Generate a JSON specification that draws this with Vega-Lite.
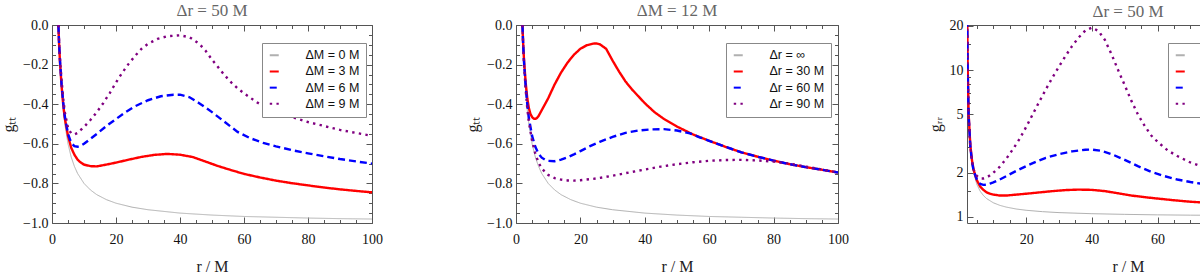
{
  "$schema": "https://vega.github.io/schema/vega-lite/v6.json",
  "padding": {"left": 0, "top": 1, "right": 0, "bottom": 0},
  "config": {
    "view": {"stroke": "#555", "strokeWidth": 1},
    "axis": {"grid": false, "domain": false, "tickColor": "#555", "tickWidth": 1, "labelFont": "Liberation Serif", "labelFontSize": 14, "labelColor": "#111", "labelFlush": false, "labelOverlap": false, "titleFont": "Liberation Serif", "titleFontSize": 16, "titleFontWeight": "normal", "titleColor": "#222"},
    "title": {"font": "Liberation Serif", "fontSize": 17, "fontWeight": "normal", "color": "#666", "offset": -2},
    "legend": {"orient": "none", "title": null, "strokeColor": "#888", "fillColor": "white", "padding": 6, "labelFont": "Liberation Sans", "labelFontSize": 12.5, "labelColor": "#111", "symbolType": "stroke", "symbolSize": 81, "symbolStrokeWidth": 2, "labelOffset": 25, "rowPadding": 3.2, "cornerRadius": 0}
  },
  "datasets": {
    "p1": [
      {"r":2,"v":0,"s":"ΔM = 0 M"},{"r":2.2,"v":-0.091,"s":"ΔM = 0 M"},{"r":2.5,"v":-0.2,"s":"ΔM = 0 M"},{"r":3,"v":-0.333,"s":"ΔM = 0 M"},{"r":3.5,"v":-0.429,"s":"ΔM = 0 M"},{"r":4,"v":-0.5,"s":"ΔM = 0 M"},{"r":5,"v":-0.6,"s":"ΔM = 0 M"},{"r":6,"v":-0.667,"s":"ΔM = 0 M"},{"r":7,"v":-0.714,"s":"ΔM = 0 M"},{"r":8,"v":-0.75,"s":"ΔM = 0 M"},{"r":10,"v":-0.8,"s":"ΔM = 0 M"},{"r":12,"v":-0.833,"s":"ΔM = 0 M"},{"r":14,"v":-0.857,"s":"ΔM = 0 M"},{"r":17,"v":-0.882,"s":"ΔM = 0 M"},{"r":20,"v":-0.9,"s":"ΔM = 0 M"},{"r":25,"v":-0.92,"s":"ΔM = 0 M"},{"r":30,"v":-0.933,"s":"ΔM = 0 M"},{"r":40,"v":-0.95,"s":"ΔM = 0 M"},{"r":50,"v":-0.96,"s":"ΔM = 0 M"},{"r":60,"v":-0.967,"s":"ΔM = 0 M"},{"r":70,"v":-0.971,"s":"ΔM = 0 M"},{"r":80,"v":-0.975,"s":"ΔM = 0 M"},{"r":90,"v":-0.978,"s":"ΔM = 0 M"},{"r":100,"v":-0.98,"s":"ΔM = 0 M"},
      {"r":2,"v":0,"s":"ΔM = 3 M"},{"r":2.2,"v":-0.09,"s":"ΔM = 3 M"},{"r":2.5,"v":-0.19,"s":"ΔM = 3 M"},{"r":3,"v":-0.31,"s":"ΔM = 3 M"},{"r":3.5,"v":-0.4,"s":"ΔM = 3 M"},{"r":4,"v":-0.47,"s":"ΔM = 3 M"},{"r":5,"v":-0.56,"s":"ΔM = 3 M"},{"r":6,"v":-0.62,"s":"ΔM = 3 M"},{"r":7,"v":-0.655,"s":"ΔM = 3 M"},{"r":8,"v":-0.68,"s":"ΔM = 3 M"},{"r":9,"v":-0.695,"s":"ΔM = 3 M"},{"r":10,"v":-0.705,"s":"ΔM = 3 M"},{"r":12,"v":-0.713,"s":"ΔM = 3 M"},{"r":14,"v":-0.714,"s":"ΔM = 3 M"},{"r":17,"v":-0.705,"s":"ΔM = 3 M"},{"r":20,"v":-0.695,"s":"ΔM = 3 M"},{"r":24,"v":-0.68,"s":"ΔM = 3 M"},{"r":28,"v":-0.666,"s":"ΔM = 3 M"},{"r":32,"v":-0.656,"s":"ΔM = 3 M"},{"r":36,"v":-0.651,"s":"ΔM = 3 M"},{"r":40,"v":-0.655,"s":"ΔM = 3 M"},{"r":44,"v":-0.667,"s":"ΔM = 3 M"},{"r":48,"v":-0.69,"s":"ΔM = 3 M"},{"r":52,"v":-0.713,"s":"ΔM = 3 M"},{"r":56,"v":-0.733,"s":"ΔM = 3 M"},{"r":60,"v":-0.752,"s":"ΔM = 3 M"},{"r":65,"v":-0.77,"s":"ΔM = 3 M"},{"r":70,"v":-0.786,"s":"ΔM = 3 M"},{"r":75,"v":-0.799,"s":"ΔM = 3 M"},{"r":80,"v":-0.81,"s":"ΔM = 3 M"},{"r":85,"v":-0.821,"s":"ΔM = 3 M"},{"r":90,"v":-0.83,"s":"ΔM = 3 M"},{"r":95,"v":-0.838,"s":"ΔM = 3 M"},{"r":100,"v":-0.845,"s":"ΔM = 3 M"},
      {"r":2,"v":0,"s":"ΔM = 6 M"},{"r":2.2,"v":-0.085,"s":"ΔM = 6 M"},{"r":2.5,"v":-0.18,"s":"ΔM = 6 M"},{"r":3,"v":-0.3,"s":"ΔM = 6 M"},{"r":3.5,"v":-0.39,"s":"ΔM = 6 M"},{"r":4,"v":-0.46,"s":"ΔM = 6 M"},{"r":5,"v":-0.55,"s":"ΔM = 6 M"},{"r":6,"v":-0.595,"s":"ΔM = 6 M"},{"r":7,"v":-0.612,"s":"ΔM = 6 M"},{"r":8,"v":-0.615,"s":"ΔM = 6 M"},{"r":9,"v":-0.61,"s":"ΔM = 6 M"},{"r":10,"v":-0.6,"s":"ΔM = 6 M"},{"r":12,"v":-0.575,"s":"ΔM = 6 M"},{"r":14,"v":-0.55,"s":"ΔM = 6 M"},{"r":17,"v":-0.51,"s":"ΔM = 6 M"},{"r":20,"v":-0.475,"s":"ΔM = 6 M"},{"r":23,"v":-0.44,"s":"ΔM = 6 M"},{"r":26,"v":-0.41,"s":"ΔM = 6 M"},{"r":30,"v":-0.38,"s":"ΔM = 6 M"},{"r":34,"v":-0.36,"s":"ΔM = 6 M"},{"r":38,"v":-0.352,"s":"ΔM = 6 M"},{"r":40,"v":-0.352,"s":"ΔM = 6 M"},{"r":43,"v":-0.365,"s":"ΔM = 6 M"},{"r":46,"v":-0.395,"s":"ΔM = 6 M"},{"r":50,"v":-0.44,"s":"ΔM = 6 M"},{"r":54,"v":-0.49,"s":"ΔM = 6 M"},{"r":58,"v":-0.54,"s":"ΔM = 6 M"},{"r":62,"v":-0.572,"s":"ΔM = 6 M"},{"r":66,"v":-0.595,"s":"ΔM = 6 M"},{"r":70,"v":-0.613,"s":"ΔM = 6 M"},{"r":75,"v":-0.632,"s":"ΔM = 6 M"},{"r":80,"v":-0.648,"s":"ΔM = 6 M"},{"r":85,"v":-0.663,"s":"ΔM = 6 M"},{"r":90,"v":-0.677,"s":"ΔM = 6 M"},{"r":95,"v":-0.689,"s":"ΔM = 6 M"},{"r":100,"v":-0.7,"s":"ΔM = 6 M"},
      {"r":2,"v":0,"s":"ΔM = 9 M"},{"r":2.2,"v":-0.08,"s":"ΔM = 9 M"},{"r":2.5,"v":-0.17,"s":"ΔM = 9 M"},{"r":3,"v":-0.28,"s":"ΔM = 9 M"},{"r":3.5,"v":-0.37,"s":"ΔM = 9 M"},{"r":4,"v":-0.44,"s":"ΔM = 9 M"},{"r":5,"v":-0.52,"s":"ΔM = 9 M"},{"r":6,"v":-0.548,"s":"ΔM = 9 M"},{"r":7,"v":-0.552,"s":"ΔM = 9 M"},{"r":8,"v":-0.545,"s":"ΔM = 9 M"},{"r":9,"v":-0.53,"s":"ΔM = 9 M"},{"r":10,"v":-0.515,"s":"ΔM = 9 M"},{"r":12,"v":-0.48,"s":"ΔM = 9 M"},{"r":14,"v":-0.44,"s":"ΔM = 9 M"},{"r":16,"v":-0.395,"s":"ΔM = 9 M"},{"r":18,"v":-0.345,"s":"ΔM = 9 M"},{"r":20,"v":-0.29,"s":"ΔM = 9 M"},{"r":22,"v":-0.24,"s":"ΔM = 9 M"},{"r":24,"v":-0.195,"s":"ΔM = 9 M"},{"r":26,"v":-0.155,"s":"ΔM = 9 M"},{"r":28,"v":-0.12,"s":"ΔM = 9 M"},{"r":30,"v":-0.095,"s":"ΔM = 9 M"},{"r":33,"v":-0.07,"s":"ΔM = 9 M"},{"r":36,"v":-0.057,"s":"ΔM = 9 M"},{"r":40,"v":-0.052,"s":"ΔM = 9 M"},{"r":43,"v":-0.062,"s":"ΔM = 9 M"},{"r":46,"v":-0.095,"s":"ΔM = 9 M"},{"r":48,"v":-0.13,"s":"ΔM = 9 M"},{"r":50,"v":-0.175,"s":"ΔM = 9 M"},{"r":52,"v":-0.215,"s":"ΔM = 9 M"},{"r":54,"v":-0.255,"s":"ΔM = 9 M"},{"r":56,"v":-0.29,"s":"ΔM = 9 M"},{"r":58,"v":-0.32,"s":"ΔM = 9 M"},{"r":60,"v":-0.345,"s":"ΔM = 9 M"},{"r":64,"v":-0.39,"s":"ΔM = 9 M"},{"r":68,"v":-0.425,"s":"ΔM = 9 M"},{"r":72,"v":-0.45,"s":"ΔM = 9 M"},{"r":76,"v":-0.47,"s":"ΔM = 9 M"},{"r":80,"v":-0.49,"s":"ΔM = 9 M"},{"r":85,"v":-0.51,"s":"ΔM = 9 M"},{"r":90,"v":-0.53,"s":"ΔM = 9 M"},{"r":95,"v":-0.545,"s":"ΔM = 9 M"},{"r":100,"v":-0.56,"s":"ΔM = 9 M"}
    ],
    "p2": [
      {"r":2,"v":0,"s":"Δr = ∞"},{"r":2.2,"v":-0.091,"s":"Δr = ∞"},{"r":2.5,"v":-0.2,"s":"Δr = ∞"},{"r":3,"v":-0.333,"s":"Δr = ∞"},{"r":3.5,"v":-0.429,"s":"Δr = ∞"},{"r":4,"v":-0.5,"s":"Δr = ∞"},{"r":5,"v":-0.6,"s":"Δr = ∞"},{"r":6,"v":-0.667,"s":"Δr = ∞"},{"r":7,"v":-0.714,"s":"Δr = ∞"},{"r":8,"v":-0.75,"s":"Δr = ∞"},{"r":10,"v":-0.8,"s":"Δr = ∞"},{"r":12,"v":-0.833,"s":"Δr = ∞"},{"r":14,"v":-0.857,"s":"Δr = ∞"},{"r":17,"v":-0.882,"s":"Δr = ∞"},{"r":20,"v":-0.9,"s":"Δr = ∞"},{"r":25,"v":-0.92,"s":"Δr = ∞"},{"r":30,"v":-0.933,"s":"Δr = ∞"},{"r":40,"v":-0.95,"s":"Δr = ∞"},{"r":50,"v":-0.96,"s":"Δr = ∞"},{"r":60,"v":-0.967,"s":"Δr = ∞"},{"r":70,"v":-0.971,"s":"Δr = ∞"},{"r":80,"v":-0.975,"s":"Δr = ∞"},{"r":90,"v":-0.978,"s":"Δr = ∞"},{"r":100,"v":-0.98,"s":"Δr = ∞"},
      {"r":2,"v":0,"s":"Δr = 30 M"},{"r":2.2,"v":-0.085,"s":"Δr = 30 M"},{"r":2.5,"v":-0.18,"s":"Δr = 30 M"},{"r":3,"v":-0.29,"s":"Δr = 30 M"},{"r":3.5,"v":-0.37,"s":"Δr = 30 M"},{"r":4,"v":-0.42,"s":"Δr = 30 M"},{"r":4.5,"v":-0.45,"s":"Δr = 30 M"},{"r":5,"v":-0.465,"s":"Δr = 30 M"},{"r":5.5,"v":-0.473,"s":"Δr = 30 M"},{"r":6,"v":-0.474,"s":"Δr = 30 M"},{"r":6.5,"v":-0.47,"s":"Δr = 30 M"},{"r":7,"v":-0.46,"s":"Δr = 30 M"},{"r":8,"v":-0.43,"s":"Δr = 30 M"},{"r":9,"v":-0.4,"s":"Δr = 30 M"},{"r":10,"v":-0.37,"s":"Δr = 30 M"},{"r":11,"v":-0.335,"s":"Δr = 30 M"},{"r":12,"v":-0.3,"s":"Δr = 30 M"},{"r":13,"v":-0.27,"s":"Δr = 30 M"},{"r":14,"v":-0.24,"s":"Δr = 30 M"},{"r":16,"v":-0.19,"s":"Δr = 30 M"},{"r":18,"v":-0.15,"s":"Δr = 30 M"},{"r":20,"v":-0.12,"s":"Δr = 30 M"},{"r":22,"v":-0.102,"s":"Δr = 30 M"},{"r":24,"v":-0.094,"s":"Δr = 30 M"},{"r":25,"v":-0.093,"s":"Δr = 30 M"},{"r":26,"v":-0.097,"s":"Δr = 30 M"},{"r":28,"v":-0.12,"s":"Δr = 30 M"},{"r":30,"v":-0.18,"s":"Δr = 30 M"},{"r":32,"v":-0.235,"s":"Δr = 30 M"},{"r":34,"v":-0.285,"s":"Δr = 30 M"},{"r":36,"v":-0.325,"s":"Δr = 30 M"},{"r":38,"v":-0.36,"s":"Δr = 30 M"},{"r":40,"v":-0.395,"s":"Δr = 30 M"},{"r":43,"v":-0.44,"s":"Δr = 30 M"},{"r":46,"v":-0.475,"s":"Δr = 30 M"},{"r":50,"v":-0.513,"s":"Δr = 30 M"},{"r":55,"v":-0.553,"s":"Δr = 30 M"},{"r":60,"v":-0.585,"s":"Δr = 30 M"},{"r":65,"v":-0.615,"s":"Δr = 30 M"},{"r":70,"v":-0.643,"s":"Δr = 30 M"},{"r":75,"v":-0.665,"s":"Δr = 30 M"},{"r":80,"v":-0.685,"s":"Δr = 30 M"},{"r":85,"v":-0.703,"s":"Δr = 30 M"},{"r":90,"v":-0.718,"s":"Δr = 30 M"},{"r":95,"v":-0.731,"s":"Δr = 30 M"},{"r":100,"v":-0.745,"s":"Δr = 30 M"},
      {"r":2,"v":0,"s":"Δr = 60 M"},{"r":2.2,"v":-0.088,"s":"Δr = 60 M"},{"r":2.5,"v":-0.19,"s":"Δr = 60 M"},{"r":3,"v":-0.31,"s":"Δr = 60 M"},{"r":3.5,"v":-0.4,"s":"Δr = 60 M"},{"r":4,"v":-0.47,"s":"Δr = 60 M"},{"r":5,"v":-0.56,"s":"Δr = 60 M"},{"r":6,"v":-0.615,"s":"Δr = 60 M"},{"r":7,"v":-0.65,"s":"Δr = 60 M"},{"r":8,"v":-0.67,"s":"Δr = 60 M"},{"r":9,"v":-0.68,"s":"Δr = 60 M"},{"r":10,"v":-0.686,"s":"Δr = 60 M"},{"r":12,"v":-0.688,"s":"Δr = 60 M"},{"r":14,"v":-0.68,"s":"Δr = 60 M"},{"r":16,"v":-0.668,"s":"Δr = 60 M"},{"r":18,"v":-0.653,"s":"Δr = 60 M"},{"r":20,"v":-0.637,"s":"Δr = 60 M"},{"r":23,"v":-0.612,"s":"Δr = 60 M"},{"r":26,"v":-0.59,"s":"Δr = 60 M"},{"r":30,"v":-0.565,"s":"Δr = 60 M"},{"r":34,"v":-0.545,"s":"Δr = 60 M"},{"r":38,"v":-0.533,"s":"Δr = 60 M"},{"r":42,"v":-0.527,"s":"Δr = 60 M"},{"r":46,"v":-0.526,"s":"Δr = 60 M"},{"r":50,"v":-0.533,"s":"Δr = 60 M"},{"r":54,"v":-0.547,"s":"Δr = 60 M"},{"r":57,"v":-0.567,"s":"Δr = 60 M"},{"r":60,"v":-0.585,"s":"Δr = 60 M"},{"r":65,"v":-0.615,"s":"Δr = 60 M"},{"r":70,"v":-0.643,"s":"Δr = 60 M"},{"r":75,"v":-0.665,"s":"Δr = 60 M"},{"r":80,"v":-0.685,"s":"Δr = 60 M"},{"r":85,"v":-0.703,"s":"Δr = 60 M"},{"r":90,"v":-0.718,"s":"Δr = 60 M"},{"r":95,"v":-0.731,"s":"Δr = 60 M"},{"r":100,"v":-0.745,"s":"Δr = 60 M"},
      {"r":2,"v":0,"s":"Δr = 90 M"},{"r":2.2,"v":-0.09,"s":"Δr = 90 M"},{"r":2.5,"v":-0.195,"s":"Δr = 90 M"},{"r":3,"v":-0.325,"s":"Δr = 90 M"},{"r":3.5,"v":-0.42,"s":"Δr = 90 M"},{"r":4,"v":-0.49,"s":"Δr = 90 M"},{"r":5,"v":-0.585,"s":"Δr = 90 M"},{"r":6,"v":-0.65,"s":"Δr = 90 M"},{"r":7,"v":-0.695,"s":"Δr = 90 M"},{"r":8,"v":-0.725,"s":"Δr = 90 M"},{"r":10,"v":-0.757,"s":"Δr = 90 M"},{"r":12,"v":-0.773,"s":"Δr = 90 M"},{"r":14,"v":-0.781,"s":"Δr = 90 M"},{"r":16,"v":-0.785,"s":"Δr = 90 M"},{"r":18,"v":-0.786,"s":"Δr = 90 M"},{"r":20,"v":-0.784,"s":"Δr = 90 M"},{"r":24,"v":-0.777,"s":"Δr = 90 M"},{"r":28,"v":-0.767,"s":"Δr = 90 M"},{"r":32,"v":-0.755,"s":"Δr = 90 M"},{"r":36,"v":-0.742,"s":"Δr = 90 M"},{"r":40,"v":-0.73,"s":"Δr = 90 M"},{"r":45,"v":-0.715,"s":"Δr = 90 M"},{"r":50,"v":-0.703,"s":"Δr = 90 M"},{"r":55,"v":-0.693,"s":"Δr = 90 M"},{"r":60,"v":-0.686,"s":"Δr = 90 M"},{"r":65,"v":-0.682,"s":"Δr = 90 M"},{"r":70,"v":-0.681,"s":"Δr = 90 M"},{"r":75,"v":-0.684,"s":"Δr = 90 M"},{"r":80,"v":-0.69,"s":"Δr = 90 M"},{"r":85,"v":-0.7,"s":"Δr = 90 M"},{"r":90,"v":-0.715,"s":"Δr = 90 M"},{"r":95,"v":-0.73,"s":"Δr = 90 M"},{"r":100,"v":-0.745,"s":"Δr = 90 M"}
    ],
    "p3": [
      {"r":2.05,"v":41,"s":"ΔM = 0 M"},{"r":2.1,"v":21,"s":"ΔM = 0 M"},{"r":2.2,"v":11,"s":"ΔM = 0 M"},{"r":2.5,"v":5,"s":"ΔM = 0 M"},{"r":3,"v":3,"s":"ΔM = 0 M"},{"r":3.5,"v":2.333,"s":"ΔM = 0 M"},{"r":4,"v":2,"s":"ΔM = 0 M"},{"r":5,"v":1.667,"s":"ΔM = 0 M"},{"r":6,"v":1.5,"s":"ΔM = 0 M"},{"r":7,"v":1.4,"s":"ΔM = 0 M"},{"r":8,"v":1.333,"s":"ΔM = 0 M"},{"r":10,"v":1.25,"s":"ΔM = 0 M"},{"r":12,"v":1.2,"s":"ΔM = 0 M"},{"r":14,"v":1.167,"s":"ΔM = 0 M"},{"r":17,"v":1.133,"s":"ΔM = 0 M"},{"r":20,"v":1.111,"s":"ΔM = 0 M"},{"r":25,"v":1.087,"s":"ΔM = 0 M"},{"r":30,"v":1.071,"s":"ΔM = 0 M"},{"r":40,"v":1.053,"s":"ΔM = 0 M"},{"r":50,"v":1.042,"s":"ΔM = 0 M"},{"r":60,"v":1.034,"s":"ΔM = 0 M"},{"r":70,"v":1.029,"s":"ΔM = 0 M"},{"r":80,"v":1.026,"s":"ΔM = 0 M"},{"r":90,"v":1.023,"s":"ΔM = 0 M"},{"r":100,"v":1.02,"s":"ΔM = 0 M"},
      {"r":2.05,"v":38,"s":"ΔM = 3 M"},{"r":2.1,"v":19.5,"s":"ΔM = 3 M"},{"r":2.2,"v":10.5,"s":"ΔM = 3 M"},{"r":2.5,"v":5,"s":"ΔM = 3 M"},{"r":3,"v":3.1,"s":"ΔM = 3 M"},{"r":3.5,"v":2.45,"s":"ΔM = 3 M"},{"r":4,"v":2.1,"s":"ΔM = 3 M"},{"r":5,"v":1.78,"s":"ΔM = 3 M"},{"r":6,"v":1.61,"s":"ΔM = 3 M"},{"r":7,"v":1.53,"s":"ΔM = 3 M"},{"r":8,"v":1.47,"s":"ΔM = 3 M"},{"r":9,"v":1.44,"s":"ΔM = 3 M"},{"r":10,"v":1.42,"s":"ΔM = 3 M"},{"r":12,"v":1.4,"s":"ΔM = 3 M"},{"r":14,"v":1.4,"s":"ΔM = 3 M"},{"r":17,"v":1.42,"s":"ΔM = 3 M"},{"r":20,"v":1.44,"s":"ΔM = 3 M"},{"r":24,"v":1.47,"s":"ΔM = 3 M"},{"r":28,"v":1.5,"s":"ΔM = 3 M"},{"r":32,"v":1.525,"s":"ΔM = 3 M"},{"r":36,"v":1.536,"s":"ΔM = 3 M"},{"r":40,"v":1.53,"s":"ΔM = 3 M"},{"r":44,"v":1.5,"s":"ΔM = 3 M"},{"r":48,"v":1.45,"s":"ΔM = 3 M"},{"r":52,"v":1.4,"s":"ΔM = 3 M"},{"r":56,"v":1.365,"s":"ΔM = 3 M"},{"r":60,"v":1.335,"s":"ΔM = 3 M"},{"r":65,"v":1.3,"s":"ΔM = 3 M"},{"r":70,"v":1.27,"s":"ΔM = 3 M"},{"r":75,"v":1.25,"s":"ΔM = 3 M"},{"r":80,"v":1.233,"s":"ΔM = 3 M"},{"r":85,"v":1.218,"s":"ΔM = 3 M"},{"r":90,"v":1.205,"s":"ΔM = 3 M"},{"r":95,"v":1.193,"s":"ΔM = 3 M"},{"r":100,"v":1.183,"s":"ΔM = 3 M"},
      {"r":2.05,"v":37,"s":"ΔM = 6 M"},{"r":2.1,"v":19,"s":"ΔM = 6 M"},{"r":2.2,"v":10.3,"s":"ΔM = 6 M"},{"r":2.5,"v":4.9,"s":"ΔM = 6 M"},{"r":3,"v":3.05,"s":"ΔM = 6 M"},{"r":3.5,"v":2.4,"s":"ΔM = 6 M"},{"r":4,"v":2.07,"s":"ΔM = 6 M"},{"r":5,"v":1.8,"s":"ΔM = 6 M"},{"r":6,"v":1.68,"s":"ΔM = 6 M"},{"r":7,"v":1.655,"s":"ΔM = 6 M"},{"r":8,"v":1.66,"s":"ΔM = 6 M"},{"r":9,"v":1.69,"s":"ΔM = 6 M"},{"r":10,"v":1.72,"s":"ΔM = 6 M"},{"r":12,"v":1.8,"s":"ΔM = 6 M"},{"r":14,"v":1.9,"s":"ΔM = 6 M"},{"r":17,"v":2.06,"s":"ΔM = 6 M"},{"r":20,"v":2.22,"s":"ΔM = 6 M"},{"r":23,"v":2.38,"s":"ΔM = 6 M"},{"r":26,"v":2.53,"s":"ΔM = 6 M"},{"r":30,"v":2.68,"s":"ΔM = 6 M"},{"r":34,"v":2.8,"s":"ΔM = 6 M"},{"r":38,"v":2.87,"s":"ΔM = 6 M"},{"r":40,"v":2.88,"s":"ΔM = 6 M"},{"r":43,"v":2.82,"s":"ΔM = 6 M"},{"r":46,"v":2.68,"s":"ΔM = 6 M"},{"r":50,"v":2.45,"s":"ΔM = 6 M"},{"r":54,"v":2.22,"s":"ΔM = 6 M"},{"r":58,"v":2.03,"s":"ΔM = 6 M"},{"r":62,"v":1.9,"s":"ΔM = 6 M"},{"r":66,"v":1.8,"s":"ΔM = 6 M"},{"r":70,"v":1.73,"s":"ΔM = 6 M"},{"r":75,"v":1.66,"s":"ΔM = 6 M"},{"r":80,"v":1.6,"s":"ΔM = 6 M"},{"r":85,"v":1.56,"s":"ΔM = 6 M"},{"r":90,"v":1.52,"s":"ΔM = 6 M"},{"r":95,"v":1.48,"s":"ΔM = 6 M"},{"r":100,"v":1.45,"s":"ΔM = 6 M"},
      {"r":2.05,"v":36,"s":"ΔM = 9 M"},{"r":2.1,"v":18.5,"s":"ΔM = 9 M"},{"r":2.2,"v":10,"s":"ΔM = 9 M"},{"r":2.5,"v":4.8,"s":"ΔM = 9 M"},{"r":3,"v":3,"s":"ΔM = 9 M"},{"r":3.5,"v":2.4,"s":"ΔM = 9 M"},{"r":4,"v":2.1,"s":"ΔM = 9 M"},{"r":5,"v":1.9,"s":"ΔM = 9 M"},{"r":6,"v":1.83,"s":"ΔM = 9 M"},{"r":7,"v":1.83,"s":"ΔM = 9 M"},{"r":8,"v":1.86,"s":"ΔM = 9 M"},{"r":9,"v":1.92,"s":"ΔM = 9 M"},{"r":10,"v":2,"s":"ΔM = 9 M"},{"r":12,"v":2.2,"s":"ΔM = 9 M"},{"r":14,"v":2.5,"s":"ΔM = 9 M"},{"r":16,"v":2.9,"s":"ΔM = 9 M"},{"r":18,"v":3.4,"s":"ΔM = 9 M"},{"r":20,"v":4.1,"s":"ΔM = 9 M"},{"r":22,"v":5,"s":"ΔM = 9 M"},{"r":24,"v":6.1,"s":"ΔM = 9 M"},{"r":26,"v":7.4,"s":"ΔM = 9 M"},{"r":28,"v":8.9,"s":"ΔM = 9 M"},{"r":30,"v":10.6,"s":"ΔM = 9 M"},{"r":32,"v":12.5,"s":"ΔM = 9 M"},{"r":34,"v":14.6,"s":"ΔM = 9 M"},{"r":36,"v":16.7,"s":"ΔM = 9 M"},{"r":38,"v":18.6,"s":"ΔM = 9 M"},{"r":40,"v":19.5,"s":"ΔM = 9 M"},{"r":42,"v":18.5,"s":"ΔM = 9 M"},{"r":44,"v":16,"s":"ΔM = 9 M"},{"r":46,"v":12.8,"s":"ΔM = 9 M"},{"r":48,"v":10,"s":"ΔM = 9 M"},{"r":50,"v":7.9,"s":"ΔM = 9 M"},{"r":52,"v":6.2,"s":"ΔM = 9 M"},{"r":54,"v":5,"s":"ΔM = 9 M"},{"r":56,"v":4.2,"s":"ΔM = 9 M"},{"r":58,"v":3.6,"s":"ΔM = 9 M"},{"r":60,"v":3.25,"s":"ΔM = 9 M"},{"r":63,"v":2.85,"s":"ΔM = 9 M"},{"r":66,"v":2.6,"s":"ΔM = 9 M"},{"r":70,"v":2.35,"s":"ΔM = 9 M"},{"r":75,"v":2.15,"s":"ΔM = 9 M"},{"r":80,"v":2.02,"s":"ΔM = 9 M"},{"r":85,"v":1.95,"s":"ΔM = 9 M"},{"r":90,"v":1.88,"s":"ΔM = 9 M"},{"r":95,"v":1.83,"s":"ΔM = 9 M"},{"r":100,"v":1.79,"s":"ΔM = 9 M"}
    ]
  },
  "bounds": "flush",
  "spacing": 144,
  "resolve": {"scale": {"color": "independent", "strokeDash": "independent"}, "legend": {"color": "independent", "strokeDash": "independent"}},
  "hconcat": [
    {
      "width": 320, "height": 198,
      "title": "Δr = 50 M",
      "data": {"name": "p1"},
      "resolve": {"axis": {"x": "independent", "y": "independent"}},
      "layer": [
        {
          "mark": {"type": "line", "clip": true, "strokeCap": "butt"},
          "encoding": {
            "x": {"field": "r", "type": "quantitative", "scale": {"domain": [0, 100], "nice": false, "zero": false},
              "axis": {"orient": "bottom", "values": [0,5,10,15,20,25,30,35,40,45,50,55,60,65,70,75,80,85,90,95,100], "format": "d", "labelExpr": "datum.value % 20 === 0 ? datum.label : ''", "tickSize": {"condition": {"test": "datum.value % 20 === 0", "value": -6}, "value": -3.5}, "labelPadding": 15, "title": "r / M", "titlePadding": 10}},
            "y": {"field": "v", "type": "quantitative", "scale": {"domain": [-1, 0], "nice": false, "zero": false},
              "axis": {"orient": "left", "values": [-1,-0.95,-0.9,-0.85,-0.8,-0.75,-0.7,-0.65,-0.6,-0.55,-0.5,-0.45,-0.4,-0.35,-0.3,-0.25,-0.2,-0.15,-0.1,-0.05,0], "format": ".1f", "labelExpr": "abs(datum.value * 5 - round(datum.value * 5)) < 0.001 ? datum.label : ''", "tickSize": {"condition": {"test": "abs(datum.value * 5 - round(datum.value * 5)) < 0.001", "value": -6}, "value": -3.5}, "labelPadding": 10, "title": "gₜₜ", "titlePadding": 6}},
            "color": {"field": "s", "type": "nominal", "scale": {"domain": ["ΔM = 0 M", "ΔM = 3 M", "ΔM = 6 M", "ΔM = 9 M"], "range": ["#b0b0b0", "#ff0000", "#0000ff", "#800080"]}, "legend": {"legendX": 210, "legendY": 18}},
            "strokeDash": {"field": "s", "type": "nominal", "scale": {"domain": ["ΔM = 0 M", "ΔM = 3 M", "ΔM = 6 M", "ΔM = 9 M"], "range": [[1, 0], [1, 0], [7, 4], [2.4, 4.3]]}, "legend": {"legendX": 210, "legendY": 18}},
            "strokeWidth": {"condition": {"test": "datum.s === 'ΔM = 0 M'", "value": 1}, "value": 2.4}
          }
        },
        {
          "mark": {"type": "point", "opacity": 0, "clip": true},
          "encoding": {
            "x": {"field": "r", "type": "quantitative", "axis": {"orient": "top", "values": [0,5,10,15,20,25,30,35,40,45,50,55,60,65,70,75,80,85,90,95,100], "labels": false, "title": null, "tickSize": {"condition": {"test": "datum.value % 20 === 0", "value": -6}, "value": -3.5}}},
            "y": {"field": "v", "type": "quantitative", "axis": {"orient": "right", "values": [-1,-0.95,-0.9,-0.85,-0.8,-0.75,-0.7,-0.65,-0.6,-0.55,-0.5,-0.45,-0.4,-0.35,-0.3,-0.25,-0.2,-0.15,-0.1,-0.05,0], "labels": false, "title": null, "tickSize": {"condition": {"test": "abs(datum.value * 5 - round(datum.value * 5)) < 0.001", "value": -6}, "value": -3.5}}}
          }
        }
      ]
    },
    {
      "bounds": "flush",
      "spacing": 129,
      "resolve": {"scale": {"color": "independent", "strokeDash": "independent"}, "legend": {"color": "independent", "strokeDash": "independent"}},
      "hconcat": [
        {
          "width": 322, "height": 198,
          "title": "ΔM = 12 M",
          "data": {"name": "p2"},
          "resolve": {"axis": {"x": "independent", "y": "independent"}},
          "layer": [
            {
              "mark": {"type": "line", "clip": true, "strokeCap": "butt"},
              "encoding": {
                "x": {"field": "r", "type": "quantitative", "scale": {"domain": [0, 100], "nice": false, "zero": false},
                  "axis": {"orient": "bottom", "values": [0,5,10,15,20,25,30,35,40,45,50,55,60,65,70,75,80,85,90,95,100], "format": "d", "labelExpr": "datum.value % 20 === 0 ? datum.label : ''", "tickSize": {"condition": {"test": "datum.value % 20 === 0", "value": -6}, "value": -3.5}, "labelPadding": 15, "title": "r / M", "titlePadding": 10}},
                "y": {"field": "v", "type": "quantitative", "scale": {"domain": [-1, 0], "nice": false, "zero": false},
                  "axis": {"orient": "left", "values": [-1,-0.95,-0.9,-0.85,-0.8,-0.75,-0.7,-0.65,-0.6,-0.55,-0.5,-0.45,-0.4,-0.35,-0.3,-0.25,-0.2,-0.15,-0.1,-0.05,0], "format": ".1f", "labelExpr": "abs(datum.value * 5 - round(datum.value * 5)) < 0.001 ? datum.label : ''", "tickSize": {"condition": {"test": "abs(datum.value * 5 - round(datum.value * 5)) < 0.001", "value": -6}, "value": -3.5}, "labelPadding": 10, "title": "gₜₜ", "titlePadding": 6}},
                "color": {"field": "s", "type": "nominal", "scale": {"domain": ["Δr = ∞", "Δr = 30 M", "Δr = 60 M", "Δr = 90 M"], "range": ["#b0b0b0", "#ff0000", "#0000ff", "#800080"]}, "legend": {"legendX": 210, "legendY": 18}},
                "strokeDash": {"field": "s", "type": "nominal", "scale": {"domain": ["Δr = ∞", "Δr = 30 M", "Δr = 60 M", "Δr = 90 M"], "range": [[1, 0], [1, 0], [7, 4], [2.4, 4.3]]}, "legend": {"legendX": 210, "legendY": 18}},
                "strokeWidth": {"condition": {"test": "datum.s === 'Δr = ∞'", "value": 1}, "value": 2.4}
              }
            },
            {
              "mark": {"type": "point", "opacity": 0, "clip": true},
              "encoding": {
                "x": {"field": "r", "type": "quantitative", "axis": {"orient": "top", "values": [0,5,10,15,20,25,30,35,40,45,50,55,60,65,70,75,80,85,90,95,100], "labels": false, "title": null, "tickSize": {"condition": {"test": "datum.value % 20 === 0", "value": -6}, "value": -3.5}}},
                "y": {"field": "v", "type": "quantitative", "axis": {"orient": "right", "values": [-1,-0.95,-0.9,-0.85,-0.8,-0.75,-0.7,-0.65,-0.6,-0.55,-0.5,-0.45,-0.4,-0.35,-0.3,-0.25,-0.2,-0.15,-0.1,-0.05,0], "labels": false, "title": null, "tickSize": {"condition": {"test": "abs(datum.value * 5 - round(datum.value * 5)) < 0.001", "value": -6}, "value": -3.5}}}
              }
            }
          ]
        },
        {
          "width": 322, "height": 198,
          "title": "Δr = 50 M",
          "data": {"name": "p3"},
          "resolve": {"axis": {"x": "independent", "y": "independent"}},
          "layer": [
            {
              "mark": {"type": "line", "clip": true, "strokeCap": "butt"},
              "encoding": {
                "x": {"field": "r", "type": "quantitative", "scale": {"domain": [2, 100], "nice": false, "zero": false},
                  "axis": {"orient": "bottom", "values": [5,10,15,20,25,30,35,40,45,50,55,60,65,70,75,80,85,90,95,100], "format": "d", "labelExpr": "datum.value % 20 === 0 ? datum.label : ''", "tickSize": {"condition": {"test": "datum.value % 20 === 0", "value": -6}, "value": -3.5}, "labelPadding": 15, "title": "r / M", "titlePadding": 10}},
                "y": {"field": "v", "type": "quantitative", "scale": {"type": "log", "domain": [0.91, 20.3], "nice": false, "zero": false},
                  "axis": {"orient": "left", "values": [1,1.5,2,3,4,5,6,7,8,9,10,15,20], "format": "~g", "labelExpr": "indexof([1,2,5,10,20], datum.value) >= 0 ? datum.label : ''", "tickSize": {"condition": {"test": "indexof([1,2,5,10,20], datum.value) >= 0", "value": -6}, "value": -3.5}, "labelPadding": 10, "title": "gᵣᵣ", "titlePadding": 6}},
                "color": {"field": "s", "type": "nominal", "scale": {"domain": ["ΔM = 0 M", "ΔM = 3 M", "ΔM = 6 M", "ΔM = 9 M"], "range": ["#b0b0b0", "#ff0000", "#0000ff", "#800080"]}, "legend": {"legendX": 201, "legendY": 18}},
                "strokeDash": {"field": "s", "type": "nominal", "scale": {"domain": ["ΔM = 0 M", "ΔM = 3 M", "ΔM = 6 M", "ΔM = 9 M"], "range": [[1, 0], [1, 0], [7, 4], [2.4, 4.3]]}, "legend": {"legendX": 201, "legendY": 18}},
                "strokeWidth": {"condition": {"test": "datum.s === 'ΔM = 0 M'", "value": 1}, "value": 2.4}
              }
            },
            {
              "mark": {"type": "point", "opacity": 0, "clip": true},
              "encoding": {
                "x": {"field": "r", "type": "quantitative", "axis": {"orient": "top", "values": [5,10,15,20,25,30,35,40,45,50,55,60,65,70,75,80,85,90,95,100], "labels": false, "title": null, "tickSize": {"condition": {"test": "datum.value % 20 === 0", "value": -6}, "value": -3.5}}},
                "y": {"field": "v", "type": "quantitative", "axis": {"orient": "right", "values": [1,1.5,2,3,4,5,6,7,8,9,10,15,20], "labels": false, "title": null, "tickSize": {"condition": {"test": "indexof([1,2,5,10,20], datum.value) >= 0", "value": -6}, "value": -3.5}}}
              }
            }
          ]
        }
      ]
    }
  ]
}
